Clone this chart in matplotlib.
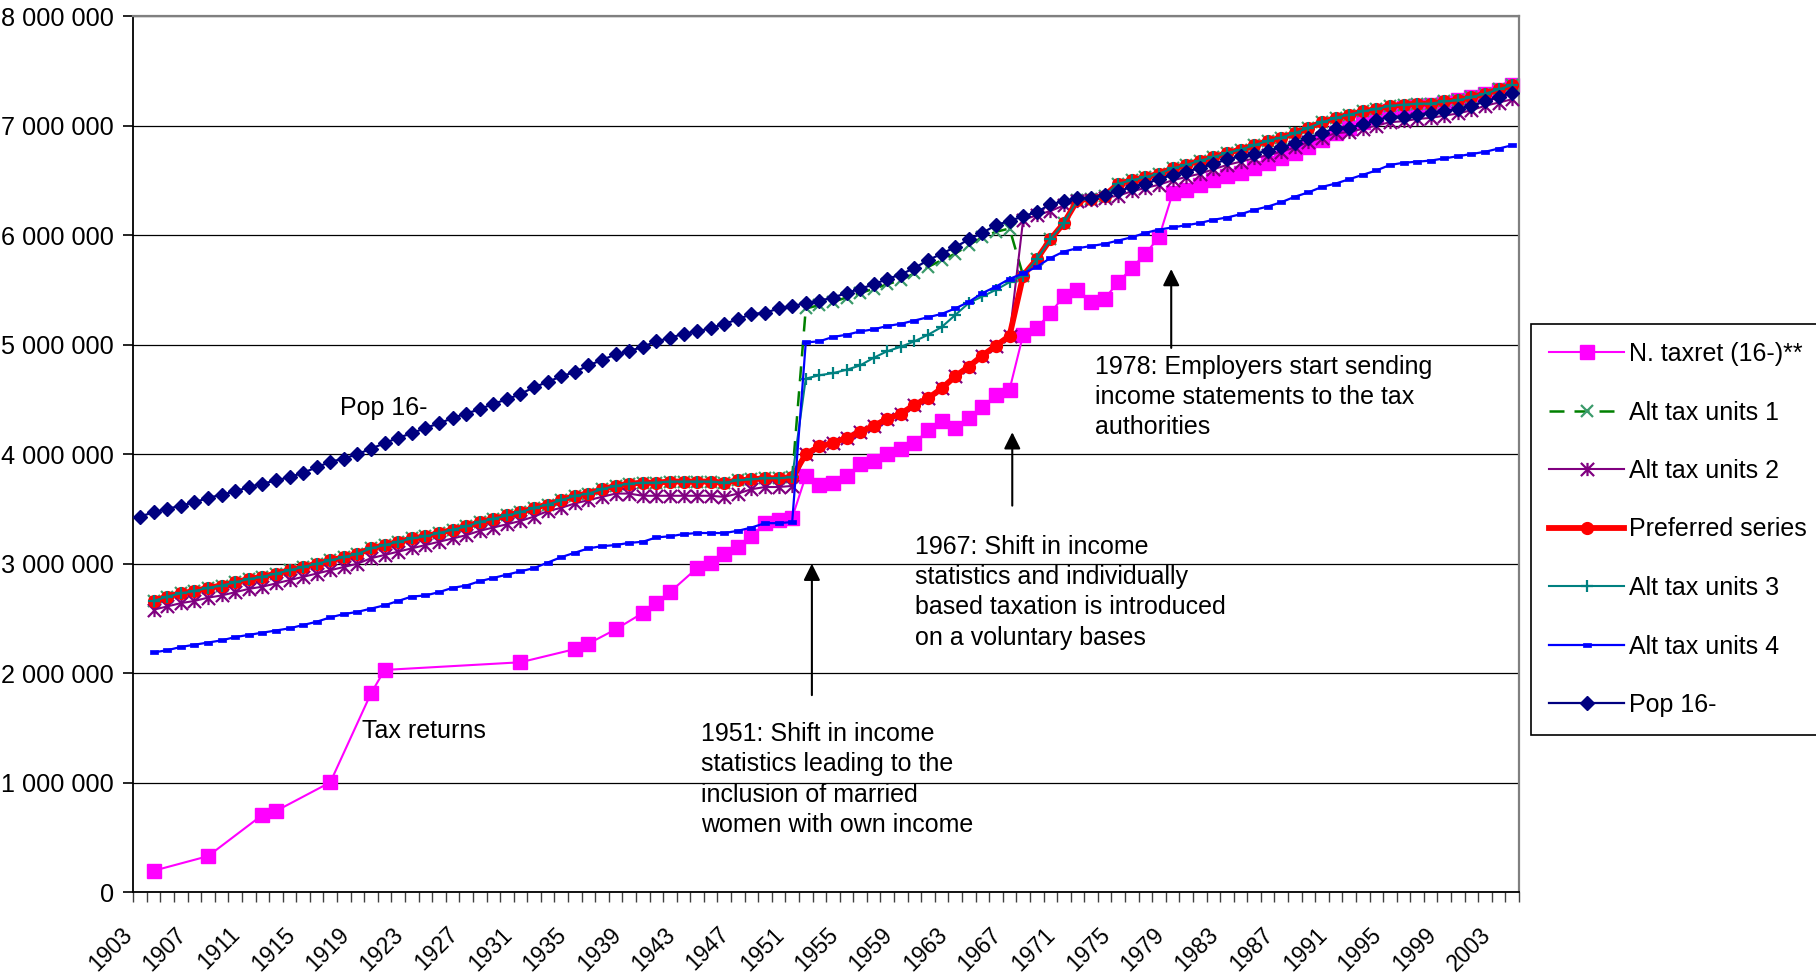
import numpy as np
import matplotlib
matplotlib.use("Agg")
import matplotlib.pyplot as plt
from matplotlib.path import Path
from matplotlib.ticker import FuncFormatter, FixedLocator
from matplotlib.transforms import ScaledTranslation

plt.rcParams['font.family'] = ['Liberation Sans', 'DejaVu Sans']

# ---------------- data (millions) ----------------
years_pop = list(range(1903, 2005))
years_main = list(range(1904, 2005))

pop16 = [3.43, 3.47, 3.50, 3.53, 3.56, 3.60, 3.63, 3.66, 3.70, 3.73,
         3.76, 3.79, 3.83, 3.88, 3.93, 3.96, 4.00, 4.05, 4.10, 4.15,
         4.19, 4.24, 4.28, 4.33, 4.37, 4.41, 4.46, 4.50, 4.55, 4.61,
         4.66, 4.71, 4.75, 4.81, 4.86, 4.91, 4.94, 4.98, 5.03, 5.06,
         5.10, 5.12, 5.15, 5.19, 5.23, 5.28, 5.29, 5.33, 5.35, 5.38,
         5.40, 5.43, 5.47, 5.51, 5.55, 5.60, 5.64, 5.70, 5.77, 5.83,
         5.89, 5.96, 6.02, 6.09, 6.13, 6.17, 6.21, 6.28, 6.31, 6.34,
         6.34, 6.37, 6.40, 6.44, 6.47, 6.51, 6.55, 6.58, 6.61, 6.65,
         6.69, 6.72, 6.74, 6.77, 6.80, 6.84, 6.89, 6.93, 6.98, 6.98,
         7.01, 7.05, 7.08, 7.08, 7.10, 7.11, 7.13, 7.15, 7.18, 7.22,
         7.26, 7.30]

preferred = [2.66, 2.70, 2.73, 2.75, 2.78, 2.80, 2.83, 2.86, 2.88, 2.91,
             2.94, 2.97, 3.00, 3.03, 3.06, 3.09, 3.14, 3.17, 3.20, 3.23,
             3.25, 3.28, 3.31, 3.34, 3.38, 3.41, 3.44, 3.47, 3.51, 3.54,
             3.58, 3.62, 3.64, 3.68, 3.71, 3.73, 3.74, 3.74, 3.75, 3.75,
             3.75, 3.75, 3.74, 3.76, 3.77, 3.78, 3.78, 3.79, 4.00, 4.07,
             4.10, 4.15, 4.20, 4.26, 4.32, 4.37, 4.45, 4.51, 4.60, 4.71,
             4.80, 4.90, 4.99, 5.08, 5.63, 5.78, 5.96, 6.11, 6.32, 6.33,
             6.36, 6.47, 6.50, 6.53, 6.56, 6.61, 6.64, 6.68, 6.71, 6.75,
             6.78, 6.82, 6.86, 6.89, 6.93, 6.98, 7.03, 7.07, 7.10, 7.13,
             7.15, 7.18, 7.19, 7.20, 7.20, 7.22, 7.23, 7.26, 7.29, 7.33,
             7.37]

alt1 = [2.66, 2.70, 2.73, 2.75, 2.78, 2.80, 2.83, 2.86, 2.88, 2.91,
        2.94, 2.97, 3.00, 3.03, 3.06, 3.09, 3.14, 3.17, 3.20, 3.23,
        3.25, 3.28, 3.31, 3.34, 3.38, 3.41, 3.44, 3.47, 3.51, 3.54,
        3.58, 3.62, 3.64, 3.68, 3.71, 3.73, 3.74, 3.74, 3.75, 3.75,
        3.75, 3.75, 3.74, 3.76, 3.77, 3.78, 3.78, 3.79, 5.33, 5.36,
        5.39, 5.43, 5.47, 5.51, 5.55, 5.59, 5.65, 5.71, 5.77, 5.83,
        5.91, 5.98, 6.03, 6.06, 5.63, 5.78, 5.96, 6.11, 6.32, 6.33,
        6.36, 6.47, 6.50, 6.53, 6.56, 6.61, 6.64, 6.68, 6.71, 6.75,
        6.78, 6.82, 6.86, 6.89, 6.93, 6.98, 7.03, 7.07, 7.10, 7.13,
        7.15, 7.18, 7.19, 7.20, 7.20, 7.22, 7.23, 7.26, 7.29, 7.33,
        7.37]

alt2 = [2.58, 2.61, 2.64, 2.66, 2.69, 2.71, 2.74, 2.77, 2.79, 2.82,
        2.85, 2.88, 2.91, 2.94, 2.97, 3.00, 3.05, 3.08, 3.11, 3.14,
        3.17, 3.20, 3.23, 3.26, 3.30, 3.33, 3.36, 3.39, 3.43, 3.48,
        3.51, 3.55, 3.58, 3.61, 3.64, 3.64, 3.62, 3.62, 3.62, 3.62,
        3.62, 3.62, 3.61, 3.64, 3.68, 3.70, 3.70, 3.71, 4.00, 4.07,
        4.10, 4.15, 4.20, 4.26, 4.32, 4.37, 4.45, 4.51, 4.60, 4.71,
        4.80, 4.90, 4.99, 5.08, 6.14, 6.18, 6.22, 6.27, 6.31, 6.32,
        6.34, 6.36, 6.40, 6.43, 6.46, 6.50, 6.53, 6.56, 6.60, 6.64,
        6.67, 6.70, 6.73, 6.76, 6.80, 6.85, 6.89, 6.93, 6.94, 6.97,
        7.00, 7.03, 7.04, 7.06, 7.07, 7.09, 7.11, 7.14, 7.18, 7.21,
        7.24]

alt3 = [2.66, 2.70, 2.73, 2.75, 2.78, 2.80, 2.83, 2.86, 2.88, 2.91,
        2.94, 2.97, 3.00, 3.03, 3.06, 3.09, 3.14, 3.17, 3.20, 3.23,
        3.25, 3.28, 3.31, 3.34, 3.38, 3.41, 3.44, 3.47, 3.51, 3.54,
        3.58, 3.62, 3.64, 3.68, 3.71, 3.73, 3.74, 3.74, 3.75, 3.75,
        3.75, 3.75, 3.74, 3.76, 3.77, 3.78, 3.78, 3.79, 4.69, 4.72,
        4.74, 4.77, 4.81, 4.88, 4.94, 4.98, 5.03, 5.09, 5.16, 5.27,
        5.38, 5.44, 5.50, 5.57, 5.63, 5.78, 5.96, 6.11, 6.32, 6.33,
        6.36, 6.47, 6.50, 6.53, 6.56, 6.61, 6.64, 6.68, 6.71, 6.75,
        6.78, 6.82, 6.86, 6.89, 6.93, 6.98, 7.03, 7.07, 7.10, 7.13,
        7.15, 7.18, 7.19, 7.20, 7.20, 7.22, 7.23, 7.26, 7.29, 7.33,
        7.37]

alt4 = [2.19, 2.21, 2.24, 2.26, 2.28, 2.30, 2.33, 2.35, 2.37, 2.39,
        2.41, 2.44, 2.47, 2.51, 2.54, 2.56, 2.59, 2.62, 2.66, 2.70,
        2.71, 2.74, 2.78, 2.80, 2.84, 2.87, 2.90, 2.93, 2.96, 3.01,
        3.06, 3.10, 3.14, 3.16, 3.17, 3.19, 3.20, 3.24, 3.25, 3.27,
        3.28, 3.28, 3.28, 3.30, 3.33, 3.37, 3.37, 3.38, 5.02, 5.03,
        5.07, 5.09, 5.12, 5.14, 5.17, 5.19, 5.22, 5.25, 5.28, 5.33,
        5.39, 5.47, 5.53, 5.60, 5.65, 5.71, 5.79, 5.85, 5.88, 5.90,
        5.92, 5.95, 5.98, 6.02, 6.05, 6.07, 6.09, 6.11, 6.14, 6.16,
        6.19, 6.23, 6.26, 6.30, 6.35, 6.39, 6.44, 6.47, 6.51, 6.55,
        6.59, 6.64, 6.66, 6.67, 6.68, 6.70, 6.72, 6.74, 6.76, 6.79,
        6.82]

taxret_years = [1904, 1908, 1912, 1913, 1917, 1920, 1921, 1931, 1935, 1936,
                1938, 1940, 1941, 1942, 1944, 1945, 1946, 1947, 1948, 1949,
                1950, 1951, 1952, 1953, 1954, 1955, 1956, 1957, 1958, 1959,
                1960, 1961, 1962, 1963, 1964, 1965, 1966, 1967, 1968, 1969,
                1970, 1971, 1972, 1973, 1974, 1975, 1976, 1977, 1978, 1979,
                1980, 1981, 1982, 1983, 1984, 1985, 1986, 1987, 1988, 1989,
                1990, 1991, 1992, 1993, 1994, 1995, 1996, 1997, 1998, 1999,
                2000, 2001, 2002, 2003, 2004]
taxret = [0.197, 0.33, 0.706, 0.742, 1.004, 1.817, 2.03, 2.10, 2.22, 2.27,
          2.40, 2.55, 2.64, 2.74, 2.96, 3.01, 3.09, 3.15, 3.25, 3.37,
          3.40, 3.42, 3.80, 3.72, 3.74, 3.80, 3.91, 3.94, 4.00, 4.05,
          4.10, 4.22, 4.30, 4.24, 4.33, 4.43, 4.54, 4.59, 5.09, 5.15,
          5.29, 5.44, 5.50, 5.39, 5.42, 5.57, 5.70, 5.83, 5.98, 6.38,
          6.41, 6.46, 6.50, 6.54, 6.57, 6.61, 6.66, 6.70, 6.75, 6.80,
          6.87, 6.93, 6.98, 7.03, 7.08, 7.13, 7.16, 7.18, 7.19, 7.21,
          7.23, 7.26, 7.29, 7.32, 7.37]

label_years = list(range(1903, 2004, 4))
yticks_vals = [0, 1, 2, 3, 4, 5, 6, 7, 8]

series_labels = ["N. taxret (16-)**", "Alt tax units 1", "Alt tax units 2",
                 "Preferred series", "Alt tax units 3", "Alt tax units 4", "Pop 16-"]

# ---------------- figure ----------------
W, H = 1816, 975
fig = plt.figure(figsize=(W / 100, H / 100), dpi=100)
fig.patch.set_facecolor('white')
ax = fig.add_axes([133.3 / W, (H - 892.3) / H, (1519 - 133.3) / W, (892.3 - 16) / H])

M = 1e6
def scale(v):
    return [x * M for x in v]

asterisk = Path([(-0.5, -0.5), (0.5, 0.5), (-0.5, 0.5), (0.5, -0.5), (0, -0.5), (0, 0.5)],
                [Path.MOVETO, Path.LINETO, Path.MOVETO, Path.LINETO, Path.MOVETO, Path.LINETO])
rect = Path([(-1, -0.5), (1, -0.5), (1, 0.5), (-1, 0.5), (-1, -0.5)],
            [Path.MOVETO, Path.LINETO, Path.LINETO, Path.LINETO, Path.CLOSEPOLY])

h = []
h += ax.plot(taxret_years, scale(taxret), color='#FF00FF', lw=1.5, marker='s', ms=10,
             mfc='#FF00FF', mec='#FF00FF', clip_on=False, zorder=2)
h += ax.plot(years_main, scale(alt1), color='#008000', lw=1.8, ls=(0, (6, 4)), marker='x', ms=8.5,
             mec='#3A9A6A', mew=1.6, clip_on=False, zorder=3)
h += ax.plot(years_main, scale(alt2), color='#800080', lw=1.5, marker=asterisk, ms=9.5,
             mec='#800080', mfc='none', mew=1.6, clip_on=False, zorder=4)
h += ax.plot(years_main, scale(preferred), color='#FF0000', lw=4.2, marker='o', ms=8.5,
             mfc='#FF0000', mec='#FF0000', clip_on=False, zorder=5)
h += ax.plot(years_main, scale(alt3), color='#008080', lw=1.5, marker='+', ms=9,
             mec='#008080', mew=1.6, clip_on=False, zorder=6)
h += ax.plot(years_main, scale(alt4), color='#0000FF', lw=1.6, marker=rect, ms=5.8,
             mfc='#0000FF', mec='#0000FF', mew=0.5, clip_on=False, zorder=7)
h += ax.plot(years_pop, scale(pop16), color='#000080', lw=1.6, marker='D', ms=7.4,
             mfc='#000080', mec='#000080', clip_on=False, zorder=8)

# ---------------- axes ----------------
ax.set_xlim(1902.5, 2004.5)
ax.set_ylim(0, 8 * M)

ax.set_yticks([v * M for v in yticks_vals])
ax.yaxis.set_major_formatter(FuncFormatter(lambda v, p: f"{int(round(v)):,}".replace(",", " ")))
ax.tick_params(axis='y', direction='out', length=7, width=1.2, color='black', pad=7,
               labelsize=18.2, labelcolor='black')
ax.yaxis.grid(True, color='black', lw=0.9, zorder=0)
ax.set_axisbelow(True)

ax.xaxis.set_major_locator(FixedLocator(np.arange(1902.5, 2005, 1.0)))
ax.xaxis.set_major_formatter(FuncFormatter(lambda v, p: ""))
ax.xaxis.set_minor_locator(FixedLocator(label_years))
ax.set_xticklabels([str(y) for y in label_years], minor=True)
ax.tick_params(axis='x', which='major', direction='out', length=7, width=1.0, color='#404040')
ax.tick_params(axis='x', which='minor', length=0, pad=22, labelsize=16.5)
for lab in ax.get_xticklabels(minor=True):
    lab.set_rotation(45)
    lab.set_ha('right')
    lab.set_va('top')
    lab.set_rotation_mode('anchor')
    lab.set_transform(lab.get_transform() + ScaledTranslation(-0.20, 0, fig.dpi_scale_trans))

for s in ['left', 'bottom']:
    ax.spines[s].set_color('black')
    ax.spines[s].set_linewidth(1.3)
for s in ['top', 'right']:
    ax.spines[s].set_color('#808080')
    ax.spines[s].set_linewidth(1.6)

# ---------------- annotations ----------------
fs = 18
ls = 1.33
ax.text(1917.75, 4.42 * M, "Pop 16-", fontsize=fs, ha='left', va='center', zorder=10)
ax.text(1919.36, 1.47 * M, "Tax returns", fontsize=fs, ha='left', va='center', zorder=10)
ax.text(1944.27, 1.03 * M,
        "1951: Shift in income\nstatistics leading to the\ninclusion of married\nwomen with own income",
        fontsize=fs, ha='left', va='center', linespacing=ls, zorder=10)
ax.text(1960.04, 2.74 * M,
        "1967: Shift in income\nstatistics and individually\nbased taxation is introduced\non a voluntary bases",
        fontsize=fs, ha='left', va='center', linespacing=ls, zorder=10)
ax.text(1973.26, 4.52 * M,
        "1978: Employers start sending\nincome statements to the tax\nauthorities",
        fontsize=fs, ha='left', va='center', linespacing=ls, zorder=10)

arrow_kw = dict(arrowstyle='-|>', color='black', lw=1.5, mutation_scale=25, shrinkA=0, shrinkB=0)
ax.annotate("", xy=(1952.45, 3.00 * M), xytext=(1952.45, 1.80 * M), arrowprops=arrow_kw, zorder=10)
ax.annotate("", xy=(1967.2, 4.20 * M), xytext=(1967.2, 3.53 * M), arrowprops=arrow_kw, zorder=10)
ax.annotate("", xy=(1978.9, 5.69 * M), xytext=(1978.9, 4.97 * M), arrowprops=arrow_kw, zorder=10)

# ---------------- legend ----------------
leg = fig.legend(h, series_labels, loc='upper left',
                 bbox_to_anchor=(1531 / W, 1 - 324 / H), bbox_transform=fig.transFigure,
                 fontsize=18, frameon=True, fancybox=False, framealpha=1, edgecolor='black',
                 borderpad=0.72, handlelength=3.0, handletextpad=0.2, labelspacing=1.38,
                 numpoints=1, borderaxespad=0)
leg.get_frame().set_linewidth(1.2)

fig.savefig("out.png", dpi=100, facecolor='white')
